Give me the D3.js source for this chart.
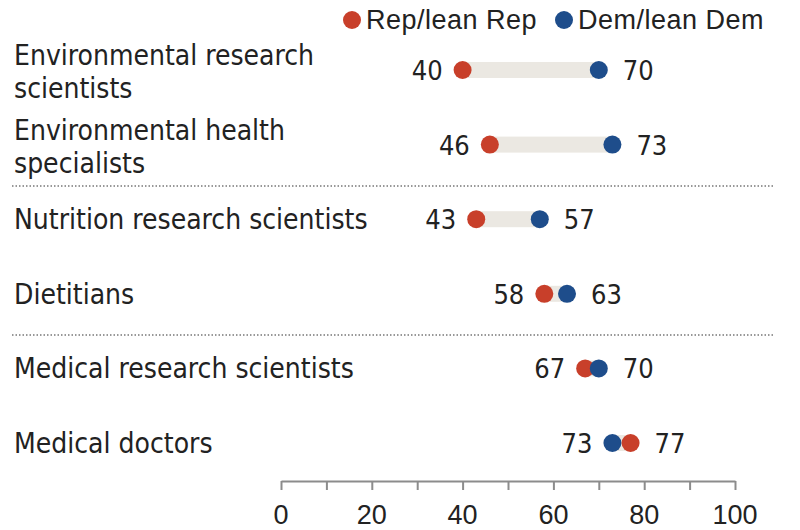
<!DOCTYPE html>
<html>
<head>
<meta charset="utf-8">
<script src="https://cdn.jsdelivr.net/npm/d3@7"></script>
<style>
  body { margin: 0; background: #fff; }
  svg { display: block; }
</style>
</head>
<body>
<div id="chart"></div>
<script>
const WIDTH = 800;
const HEIGHT = 530;

const categories = [
  "Environmental research scientists",
  "Environmental health specialists",
  "Nutrition research scientists",
  "Dietitians",
  "Medical research scientists",
  "Medical doctors"
];
const labelLines = [
  ["Environmental research", "scientists"],
  ["Environmental health", "specialists"],
  ["Nutrition research scientists"],
  ["Dietitians"],
  ["Medical research scientists"],
  ["Medical doctors"]
];
const repValues = [40, 46, 43, 58, 67, 77];
const demValues = [70, 73, 57, 63, 70, 73];
const dividerAfter = [1, 3];
const xTicks = [0, 20, 40, 60, 80, 100];
const seriesNames = ["Rep/lean Rep", "Dem/lean Dem"];

const RED = "#c83f2a";
const BLUE = "#1e4d8b";
const BAR = "#ebe8e2";
const NARROW = "'Liberation Sans Narrow', 'Arial Narrow', 'DejaVu Sans Condensed', sans-serif";
const WIDE = "'Liberation Sans', Arial, sans-serif";

const svg = d3.select("#chart").append("svg")
  .attr("width", WIDTH)
  .attr("height", HEIGHT);

const x = d3.scaleLinear().domain([0, 100]).range([281, 735]);
const y = d3.scalePoint().domain(categories).range([70, 443]);

// Legend
const legend = svg.append("g");
[[352, 366, RED], [564, 578, BLUE]].forEach((p, i) => {
  legend.append("circle").attr("cx", p[0]).attr("cy", 20).attr("r", 9).attr("fill", p[2]);
  legend.append("text")
    .attr("x", p[1]).attr("y", 29)
    .style("font-family", WIDE).style("font-size", "27px").style("letter-spacing", "0.5px")
    .attr("fill", "#222")
    .text(seriesNames[i]);
});

// Dividers
dividerAfter.forEach(i => {
  const yy = (y(categories[i]) + y(categories[i + 1])) / 2 + 4;
  svg.append("line")
    .attr("x1", 12).attr("x2", 775)
    .attr("y1", yy).attr("y2", yy)
    .attr("stroke", "#777")
    .attr("stroke-width", 1.5)
    .attr("stroke-dasharray", "1.5,2");
});

const rows = svg.append("g").selectAll("g")
  .data(categories)
  .join("g")
  .attr("transform", d => "translate(0," + y(d) + ")");

// Category labels
rows.each(function(d, i) {
  const lines = labelLines[i];
  const t = d3.select(this).append("text")
    .style("font-family", NARROW).style("font-size", "28px").attr("fill", "#222");
  lines.forEach((ln, j) => {
    const base = lines.length === 1 ? 10 : (j === 0 ? -5 : 28);
    t.append("tspan").attr("x", 14).attr("y", base).text(ln);
  });
});

// Connector bars
rows.append("rect")
  .attr("x", (d, i) => x(Math.min(repValues[i], demValues[i])))
  .attr("width", (d, i) => Math.abs(x(demValues[i]) - x(repValues[i])))
  .attr("y", -8)
  .attr("height", 16)
  .attr("fill", BAR);

// Dots and value labels
rows.each(function(d, i) {
  const g = d3.select(this);
  const pts = [[repValues[i], RED], [demValues[i], BLUE]];
  if (repValues[i] > demValues[i]) pts.reverse();
  pts.forEach(p => {
    g.append("circle").attr("cx", x(p[0])).attr("cy", 0).attr("r", 9).attr("fill", p[1]);
  });
  const lo = Math.min(repValues[i], demValues[i]);
  const hi = Math.max(repValues[i], demValues[i]);
  g.append("text")
    .attr("x", x(lo) - 20).attr("y", 10)
    .attr("text-anchor", "end")
    .style("font-family", NARROW).style("font-size", "27px").attr("fill", "#222")
    .text(lo);
  g.append("text")
    .attr("x", x(hi) + 24).attr("y", 10)
    .style("font-family", NARROW).style("font-size", "27px").attr("fill", "#222")
    .text(hi);
});

// X axis
const axis = svg.append("g")
  .attr("transform", "translate(0,481)")
  .call(d3.axisBottom(x).tickValues(d3.range(0, 101, 10)).tickSize(9).tickSizeOuter(0).tickFormat(""));
axis.select(".domain").attr("stroke", "#8c8c8c").attr("stroke-width", 2);
axis.selectAll(".tick line").attr("stroke", "#8c8c8c").attr("stroke-width", 2);

svg.append("g").selectAll("text")
  .data(xTicks)
  .join("text")
  .attr("x", d => x(d))
  .attr("y", 524)
  .attr("text-anchor", "middle")
  .style("font-family", WIDE).style("font-size", "27px").attr("fill", "#222")
  .text(d => d);
</script>
</body>
</html>
